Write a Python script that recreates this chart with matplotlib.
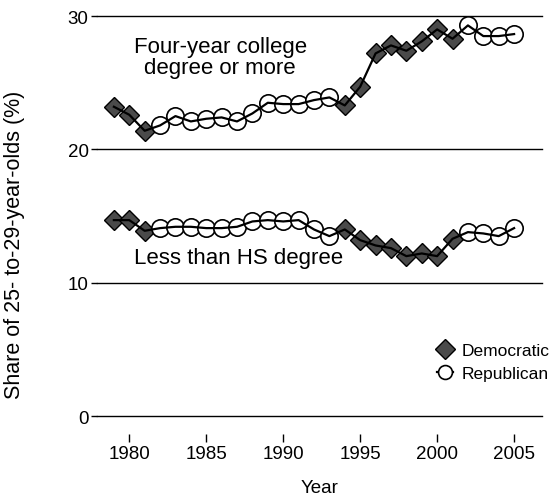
import matplotlib.pyplot as plt
from matplotlib.lines import Line2D

plt.rcParams['font.family'] = ['Liberation Sans', 'DejaVu Sans']

years = list(range(1979, 2006))
college = [23.2, 22.6, 21.4, 21.8, 22.5, 22.1, 22.3, 22.4, 22.1, 22.7, 23.5, 23.4,
           23.4, 23.7, 23.9, 23.3, 24.7, 27.2, 27.8, 27.4, 28.1, 29.0, 28.3, 29.3,
           28.5, 28.5, 28.65]
less_hs = [14.7, 14.7, 13.9, 14.1, 14.2, 14.2, 14.1, 14.1, 14.2, 14.6, 14.7, 14.6,
           14.7, 14.0, 13.5, 14.0, 13.2, 12.8, 12.6, 12.0, 12.2, 12.0, 13.3, 13.8,
           13.7, 13.5, 14.1]
party = ['D'] * 3 + ['R'] * 12 + ['D'] * 8 + ['R'] * 4
yticks = [0, 10, 20, 30]
xticks = [1980, 1985, 1990, 1995, 2000, 2005]

fig = plt.figure(figsize=(5.54, 5.02), dpi=100)
ax = fig.add_axes([0.175, 0.169, 0.803, 0.797])

dem_style = dict(marker='D', markersize=10.5, markerfacecolor='#4a4a4a',
                 markeredgecolor='black', markeredgewidth=1.0, linestyle='none')
rep_style = dict(marker='o', markersize=12.5, markerfacecolor='white',
                 markeredgecolor='black', markeredgewidth=1.2, linestyle='none')

for series in (college, less_hs):
    dx = [y for y, p in zip(years, party) if p == 'D']
    dy = [v for v, p in zip(series, party) if p == 'D']
    rx = [y for y, p in zip(years, party) if p == 'R']
    ry = [v for v, p in zip(series, party) if p == 'R']
    ax.plot(dx, dy, zorder=3, clip_on=False, **dem_style)
    ax.plot(rx, ry, zorder=3, clip_on=False, **rep_style)
    # connecting line drawn over the markers
    ax.plot(years, series, color='black', linewidth=1.6, zorder=4, clip_on=False)

for yv in yticks:
    ax.axhline(yv, color='black', linewidth=1.0, zorder=1, clip_on=False)

ax.set_ylim(0, 30)
ax.set_xlim(1977.9, 2006.8)
ax.set_yticks(yticks)
ax.set_xticks(xticks)
for s in ['top', 'right', 'left']:
    ax.spines[s].set_visible(False)
ax.spines['bottom'].set_position(('outward', 13))
ax.spines['bottom'].set_visible(False)
ax.tick_params(axis='y', length=4, width=1, pad=2, labelsize=13.5)
ax.tick_params(axis='x', length=6, width=1, pad=2, labelsize=13.5)

ax.set_xlabel('Year', fontsize=13.5, labelpad=12)
ax.set_ylabel('Share of 25- to-29-year-olds (%)', fontsize=15.5)
ax.yaxis.set_label_coords(-0.162, 0.43)

ax.text(1985.9, 26.9, 'Four-year college\ndegree or more', fontsize=16,
        ha='center', va='center', linespacing=1.0)
ax.text(1987.1, 11.9, 'Less than HS degree', fontsize=16, ha='center', va='center')

handles = [
    Line2D([], [], **dem_style),
    Line2D([], [], marker='o', markersize=10, markerfacecolor='white',
           markeredgecolor='black', markeredgewidth=1.2, color='black', linewidth=1.6),
]
ax.legend(handles, ['Democratic', 'Republican'], loc='center left',
          bbox_to_anchor=(0.73, 0.135), frameon=False, fontsize=12.5,
          handlelength=0.9, handletextpad=0.5, labelspacing=0.45)

fig.savefig('out.png', dpi=100)
